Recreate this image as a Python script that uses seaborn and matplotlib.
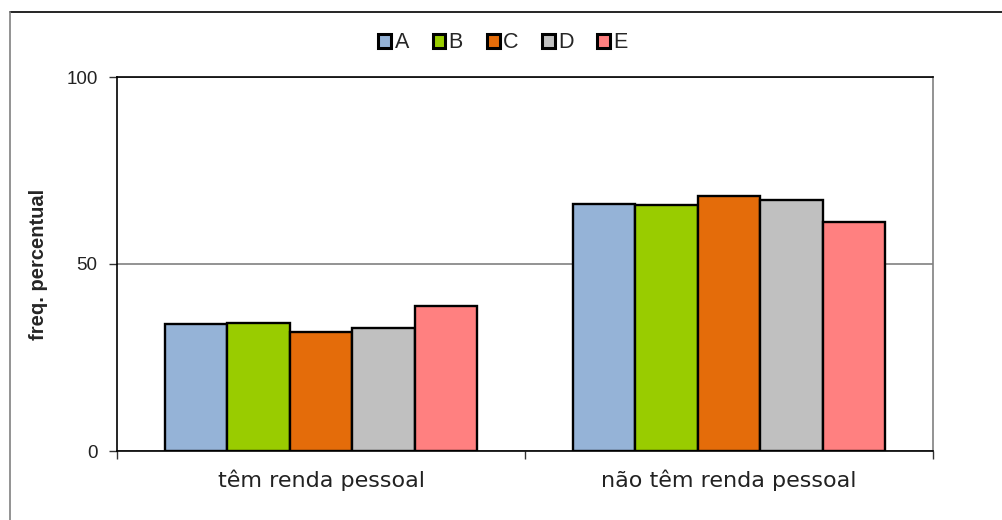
"""
Income frequency by group - grouped bar chart.
"""
import pandas as pd
import matplotlib
matplotlib.use('Agg')
import matplotlib.pyplot as plt
from matplotlib.lines import Line2D
from matplotlib.patches import Patch
import seaborn as sns

# Data
categories = ['têm renda pessoal', 'não têm renda pessoal']
groups = ['A', 'B', 'C', 'D', 'E']
tem_renda = [33.9, 34.1, 31.7, 32.8, 38.7]
nao_tem_renda = [66.0, 65.7, 68.1, 67.0, 61.1]
colors = ['#95B3D7', '#99CC00', '#E46C0A', '#C0C0C0', '#FF8080']


def main():
    rows = []
    for g, v in zip(groups, tem_renda):
        rows.append({'categoria': categories[0], 'grupo': g, 'freq': v})
    for g, v in zip(groups, nao_tem_renda):
        rows.append({'categoria': categories[1], 'grupo': g, 'freq': v})
    df = pd.DataFrame(rows)

    sns.set_style('white')
    plt.rcParams['font.family'] = ['Liberation Sans', 'DejaVu Sans']

    fig = plt.figure(figsize=(10.03, 5.20), dpi=100)
    ax = fig.add_axes([117 / 1003, 1 - 451 / 520, (933 - 117) / 1003, (451 - 77) / 520])

    sns.barplot(data=df, x='categoria', y='freq', hue='grupo', order=categories,
                hue_order=groups, palette=colors, width=0.767, edgecolor='black',
                linewidth=1.7, saturation=1, ax=ax, legend=False)

    ax.set_xlim(-0.5, 1.5)
    ax.set_ylim(0, 100)
    ax.set_yticks([0, 50, 100])
    ax.tick_params(axis='y', labelsize=13.5, length=6, width=1, color='#333333',
                   direction='out', left=True, pad=8, labelcolor='#222222')
    ax.yaxis.grid(True, color='#808080', linewidth=1.2)
    ax.set_axisbelow(True)

    # category labels, with ticks at category boundaries
    ax.set_xticks([0, 1])
    ax.set_xticklabels(categories, fontsize=16, family='DejaVu Sans', color='#222222')
    ax.tick_params(axis='x', length=0, pad=13)
    ax.set_xticks([-0.5, 0.5, 1.5], minor=True)
    ax.tick_params(axis='x', which='minor', length=6, width=1, color='#333333',
                   direction='out', bottom=True)
    ax.set_xlabel('')
    ax.set_ylabel('freq. percentual', fontsize=14.5, fontweight='bold', labelpad=13)

    for side in ['left', 'bottom', 'top']:
        ax.spines[side].set_visible(True)
        ax.spines[side].set_color('black')
        ax.spines[side].set_linewidth(1.2)
    ax.spines['right'].set_color('#808080')
    ax.spines['right'].set_linewidth(1.2)

    handles = [Patch(facecolor=c, edgecolor='black', linewidth=2.2) for c in colors]
    fig.legend(handles, groups, loc='center', bbox_to_anchor=(503 / 1003, 1 - 43 / 520),
               ncol=5, frameon=False, fontsize=15.5, handlelength=0.6, handleheight=0.6,
               handletextpad=0.15, columnspacing=1.1)

    # chart border (top and left edges visible)
    fig.add_artist(Line2D([10 / 1003, 1.01], [1 - 12 / 520, 1 - 12 / 520],
                          color='black', linewidth=1.2, transform=fig.transFigure))
    fig.add_artist(Line2D([10 / 1003, 10 / 1003], [-0.01, 1 - 12 / 520],
                          color='#808080', linewidth=1.2, transform=fig.transFigure))

    fig.savefig('out.png', dpi=100)
    plt.close(fig)


if __name__ == "__main__":
    main()
